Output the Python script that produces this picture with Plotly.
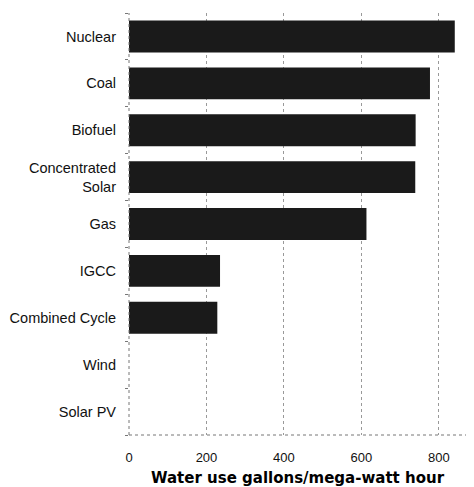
import plotly.graph_objects as go

categories = ["Nuclear", "Coal", "Biofuel", "Concentrated<br>Solar", "Gas",
              "IGCC", "Combined Cycle", "Wind", "Solar PV"]
water_use = [841, 777, 740, 739, 613, 235, 228, 0, 0]
x_ticks = [0, 200, 400, 600, 800]

fig = go.Figure(go.Bar(
    x=water_use, y=categories, orientation="h",
    marker=dict(color="#1a1a1a", line=dict(width=0)),
    width=0.68,
))

# the page body adds an 8px offset, so the figure is sized to the remaining area
fig.update_layout(
    width=466, height=479,
    margin=dict(l=121, r=8, t=5, b=52),
    paper_bgcolor="white", plot_bgcolor="white",
    showlegend=False,
    font=dict(family="Liberation Sans, Arial", size=13, color="#111"),
    shapes=[
        dict(type="line", xref="paper", yref="paper", x0=0, x1=0, y0=0, y1=1,
             line=dict(color="#777", width=1, dash="dot")),
        dict(type="line", xref="paper", yref="paper", x0=0, x1=1, y0=0, y1=0,
             line=dict(color="#777", width=1, dash="dot")),
    ],
)
fig.update_xaxes(
    range=[0, 870], tickvals=x_ticks, automargin=False,
    showgrid=True, gridcolor="#999", griddash="dot", gridwidth=1,
    zeroline=False, showline=False, ticks="",
    tickfont=dict(size=13), ticklabelstandoff=13,
    title=dict(text="<b>Water use gallons/mega-watt hour</b>",
               font=dict(family="DejaVu Sans", size=15, color="#000"), standoff=17),
)
fig.update_yaxes(
    categoryorder="array", categoryarray=categories[::-1], automargin=False,
    tickson="boundaries", ticks="outside", ticklen=3, tickcolor="#777",
    showgrid=False, zeroline=False, showline=False,
    tickfont=dict(size=14.5), ticklabelstandoff=12,
)

fig.write_html("out.html")
